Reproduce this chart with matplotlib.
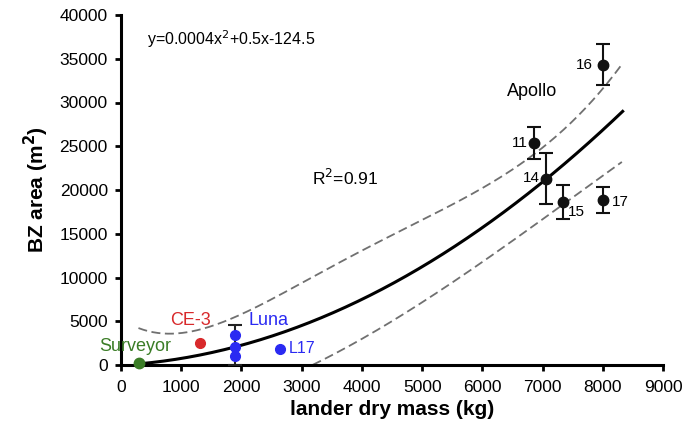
import numpy as np
import matplotlib
matplotlib.use("Agg")
import matplotlib.pyplot as plt

plt.rcParams['font.family'] = ['Liberation Sans', 'DejaVu Sans']

# Apollo landers: dry mass (kg), BZ area (m2), error
apollo_names = ['11', '14', '15', '16', '17']
apollo_mass = [6860, 7060, 7340, 8000, 8000]
apollo_area = [25370, 21300, 18630, 34300, 18860]
apollo_err = [1860, 2900, 1890, 2330, 1490]

luna_mass = [1890, 1890, 1890]
luna_area = [3400, 2100, 1000]
luna_err_top = 4570

l17_mass, l17_area = 2640, 1830
ce3_mass, ce3_area = 1310, 2480
surveyor_mass, surveyor_area = 300, 200

# fitted curve as drawn (quadratic), and read-off confidence band
fit_coef = [0.00037, 0.4, -20]
fit_range = [300, 8330]
upper_x = [290, 550, 814, 1100, 1367, 1810, 2475, 2973, 3305, 4081, 4967,
           5520, 6075, 6628, 6960, 7347, 7679, 8012, 8317]
upper_y = [4190, 3800, 3620, 3700, 4000, 5330, 7430, 9340, 10660, 13000,
           16570, 18480, 20570, 23050, 24380, 26860, 29140, 31810, 34290]
lower_x = [3185, 3600, 4081, 4600, 5188, 5700, 6300, 6738, 7536, 8317]
lower_y = [0, 1500, 3300, 5500, 7900, 10300, 13300, 15430, 19230, 23230]

green = '#3b7d27'
red = '#d8292b'
blue = '#2a2af2'

fig = plt.figure(figsize=(6.87, 4.32), dpi=100)
ax = fig.add_axes([121 / 687, 67 / 432, 542 / 687, 350 / 432])

xs = np.linspace(fit_range[0], fit_range[1], 200)
ax.plot(xs, np.polyval(fit_coef, xs), color='black', lw=2.2, zorder=3)

# smooth the read band points a little
ux = np.linspace(upper_x[0], upper_x[-1], 200)
uy = np.polyval(np.polyfit(upper_x, upper_y, 5), ux)
lx = np.linspace(lower_x[0], lower_x[-1], 200)
ly = np.polyval(np.polyfit(lower_x, lower_y, 3), lx)
ax.plot(ux, uy, color='#707070', lw=1.3, dashes=(5, 2.5), zorder=2)
ax.plot(lx, ly, color='#707070', lw=1.3, dashes=(5, 2.5), zorder=2)

ax.errorbar(apollo_mass, apollo_area, yerr=apollo_err, fmt='o', color='#111111',
            ms=7.5, elinewidth=1.5, capsize=5, capthick=1.5, zorder=4)
ax.errorbar([luna_mass[1]], [luna_area[1]],
            yerr=[[luna_area[1]], [luna_err_top - luna_area[1]]],
            fmt='none', ecolor='#222222', elinewidth=1.5, capsize=5,
            capthick=1.5, zorder=4)
ax.plot(luna_mass, luna_area, 'o', color=blue, ms=7, zorder=5)
ax.plot([l17_mass], [l17_area], 'o', color=blue, ms=7, zorder=5)
ax.plot([ce3_mass], [ce3_area], 'o', color=red, ms=7, zorder=5)
ax.plot([surveyor_mass], [surveyor_area], 'o', color=green, ms=7.5, zorder=5,
        clip_on=False)

# mission number labels
offsets = {'11': (-4.5, 0, 'right'), '14': (-4.5, 0.5, 'right'),
           '15': (3.5, -7, 'left'), '16': (-7, 0, 'right'),
           '17': (6.5, -1.5, 'left')}
for name, mx, my in zip(apollo_names, apollo_mass, apollo_area):
    dx, dy, ha = offsets[name]
    ax.annotate(name, (mx, my), xytext=(dx, dy), textcoords='offset points',
                ha=ha, va='center', fontsize=11)

ax.text(6412, 31200, 'Apollo', fontsize=13, ha='left', va='center')
ax.text(233, 2060, 'Surveyor', fontsize=13, color=green, ha='center', va='center')
ax.text(1146, 5030, 'CE-3', fontsize=13, color=red, ha='center', va='center')
ax.text(2110, 5030, 'Luna', fontsize=13, color=blue, ha='left', va='center')
ax.annotate('L17', (l17_mass, l17_area), xytext=(6.5, 0), textcoords='offset points',
            fontsize=11.5, color=blue, ha='left', va='center')
ax.text(432, 37260, 'y=0.0004x$^2$+0.5x-124.5', fontsize=11.5, ha='left', va='center')
ax.text(3173, 21370, 'R$^2$=0.91', fontsize=12.5, ha='left', va='center')

ax.set_xlim(0, 9000)
ax.set_ylim(0, 40000)
ax.set_xticks(np.arange(0, 9001, 1000))
ax.set_yticks(np.arange(0, 40001, 5000))
for s in ['top', 'right']:
    ax.spines[s].set_visible(False)
for s in ['left', 'bottom']:
    ax.spines[s].set_linewidth(2.2)
ax.tick_params(width=2, length=4.5, labelsize=12.5, direction='out')
ax.tick_params(axis='x', pad=6)
ax.tick_params(axis='y', pad=5)

ax.set_xlabel('lander dry mass (kg)', fontsize=15, fontweight='bold', labelpad=4)
ax.set_ylabel('BZ area (m$^\\mathbf{2}$)', fontsize=15, fontweight='bold', labelpad=6)

fig.savefig('out.png', dpi=100)
